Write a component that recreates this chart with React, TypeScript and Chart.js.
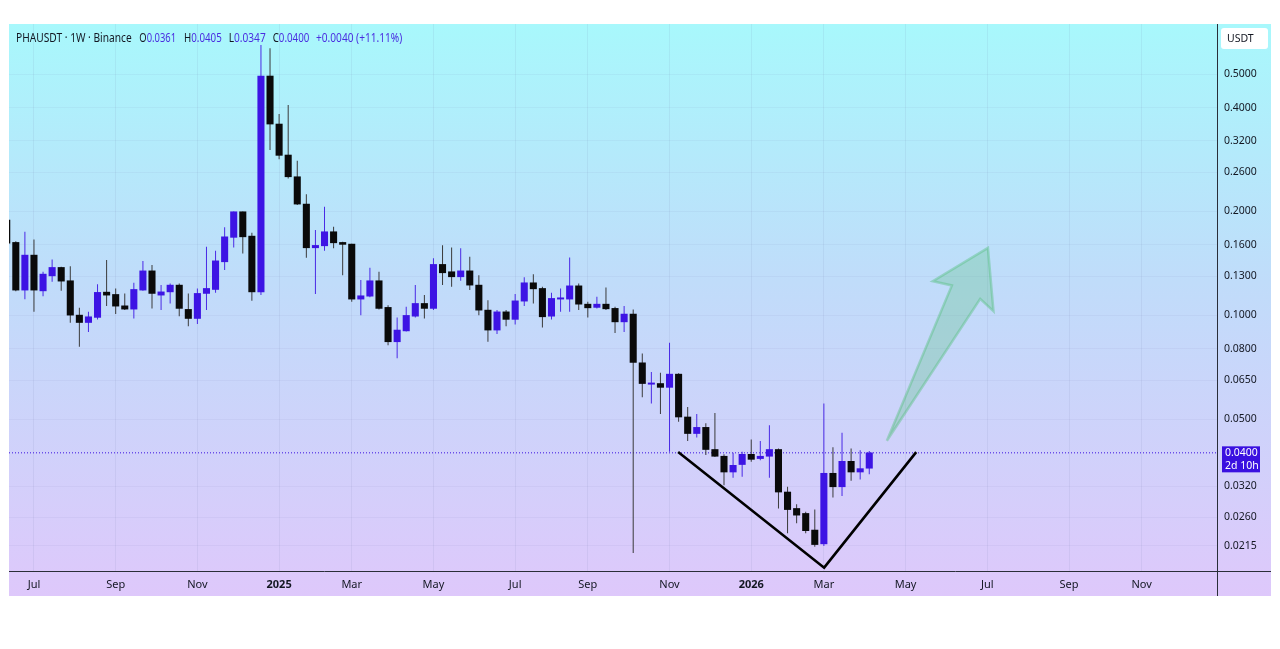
import React, { useEffect, useRef } from "react";
import { Chart, registerables } from "chart.js";

Chart.register(...registerables);

// Weekly candles. Index 0 = week of 2024-07-01; first candle = week of 2024-06-10 (index -3)
const FIRST_WEEK_INDEX = -3;

const opens = [
  0.1889, 0.1627, 0.1184, 0.1495, 0.1178, 0.1302, 0.1377, 0.1260, 0.1002, 0.0954,
  0.0987, 0.1168, 0.1150, 0.1066, 0.1043, 0.1184, 0.1346, 0.1145, 0.1170, 0.1224,
  0.1041, 0.0980, 0.1158, 0.1189, 0.1430, 0.1683, 0.1996, 0.1697, 0.1170, 0.4935,
  0.3583, 0.2914, 0.2521, 0.2101, 0.1570, 0.1591, 0.1747, 0.1627, 0.1609, 0.1115,
  0.1137, 0.1260, 0.1055, 0.0839, 0.0902, 0.0995, 0.1083, 0.1048, 0.1405, 0.1338,
  0.1294, 0.1346, 0.1224, 0.1036, 0.0907, 0.1024, 0.0974, 0.1100, 0.1243, 0.1197,
  0.0995, 0.1115, 0.1115, 0.1218, 0.1078, 0.1055, 0.1078, 0.1048, 0.0958, 0.1009,
  0.0729, 0.0632, 0.0635, 0.0619, 0.0676, 0.0508, 0.0455, 0.0474, 0.0409, 0.0391,
  0.0352, 0.0370, 0.0396, 0.0385, 0.0391, 0.0409, 0.0308, 0.0276, 0.0267, 0.0239,
  0.0218, 0.0349, 0.0319, 0.0378, 0.0352, 0.0361,
];
const highs = [
  0.1950, 0.1640, 0.1747, 0.1660, 0.1338, 0.1453, 0.1383, 0.1389, 0.1052, 0.1024,
  0.1232, 0.1446, 0.1197, 0.1158, 0.1243, 0.1437, 0.1399, 0.1224, 0.1238, 0.1238,
  0.1158, 0.1197, 0.1580, 0.1539, 0.1799, 0.2000, 0.2000, 0.1735, 0.6069, 0.5937,
  0.3830, 0.4067, 0.2805, 0.2242, 0.1767, 0.2064, 0.1806, 0.1634, 0.1612, 0.1266,
  0.1374, 0.1338, 0.1071, 0.0987, 0.1059, 0.1224, 0.1145, 0.1463, 0.1598, 0.1574,
  0.1564, 0.1478, 0.1308, 0.1107, 0.1036, 0.1036, 0.1153, 0.1289, 0.1315, 0.1210,
  0.1163, 0.1197, 0.1472, 0.1238, 0.1095, 0.1132, 0.1205, 0.1059, 0.1064, 0.1041,
  0.0776, 0.0686, 0.0682, 0.0833, 0.0680, 0.0543, 0.0518, 0.0487, 0.0522, 0.0396,
  0.0400, 0.0403, 0.0437, 0.0433, 0.0481, 0.0412, 0.0319, 0.0284, 0.0270, 0.0274,
  0.0556, 0.0415, 0.0457, 0.0412, 0.0407, 0.0405,
];
const lows = [
  0.1580, 0.1175, 0.1113, 0.1024, 0.1137, 0.1251, 0.1178, 0.0952, 0.0811, 0.0896,
  0.0974, 0.1064, 0.1009, 0.1036, 0.0980, 0.1178, 0.1048, 0.1036, 0.1083, 0.0995,
  0.0931, 0.0944, 0.1036, 0.1163, 0.1353, 0.1574, 0.1512, 0.1102, 0.1145, 0.3012,
  0.2831, 0.2494, 0.2087, 0.1469, 0.1153, 0.1539, 0.1564, 0.1308, 0.1095, 0.1002,
  0.1128, 0.1041, 0.0820, 0.0751, 0.0899, 0.0987, 0.0980, 0.1036, 0.1224, 0.1210,
  0.1260, 0.1184, 0.1002, 0.0839, 0.0883, 0.0931, 0.0942, 0.1064, 0.1083, 0.0923,
  0.0974, 0.1024, 0.1024, 0.1036, 0.0987, 0.1048, 0.1036, 0.0890, 0.0896, 0.0205,
  0.0579, 0.0556, 0.0518, 0.0403, 0.0492, 0.0433, 0.0443, 0.0394, 0.0389, 0.0322,
  0.0339, 0.0341, 0.0377, 0.0381, 0.0339, 0.0276, 0.0234, 0.0250, 0.0234, 0.0214,
  0.0215, 0.0297, 0.0300, 0.0332, 0.0335, 0.0347,
];
const closes = [
  0.1620, 0.1184, 0.1495, 0.1184, 0.1317, 0.1377, 0.1257, 0.1002, 0.0954, 0.0991,
  0.1166, 0.1145, 0.1064, 0.1043, 0.1189, 0.1346, 0.1158, 0.1170, 0.1224, 0.1048,
  0.0980, 0.1158, 0.1197, 0.1439, 0.1689, 0.1996, 0.1689, 0.1170, 0.4935, 0.3583,
  0.2908, 0.2521, 0.2101, 0.1570, 0.1595, 0.1747, 0.1623, 0.1606, 0.1115, 0.1140,
  0.1260, 0.1048, 0.0839, 0.0907, 0.1000, 0.1083, 0.1048, 0.1405, 0.1329, 0.1294,
  0.1346, 0.1224, 0.1036, 0.0907, 0.1024, 0.0974, 0.1102, 0.1243, 0.1194, 0.0991,
  0.1120, 0.1120, 0.1218, 0.1078, 0.1052, 0.1078, 0.1045, 0.0958, 0.1009, 0.0731,
  0.0635, 0.0635, 0.0619, 0.0676, 0.0508, 0.0455, 0.0474, 0.0409, 0.0391, 0.0352,
  0.0368, 0.0396, 0.0383, 0.0391, 0.0409, 0.0308, 0.0274, 0.0264, 0.0238, 0.0217,
  0.0349, 0.0319, 0.0378, 0.0352, 0.0360, 0.0400,
];

// Time axis: week index of the first weekly bar of each labelled month
const monthTickWeeks = [0, 9, 18, 27, 35, 44, 53, 61, 70, 79, 87, 96, 105, 114, 122];
const monthTickLabels = ["Jul", "Sep", "Nov", "2025", "Mar", "May", "Jul", "Sep", "Nov", "2026", "Mar", "May", "Jul", "Sep", "Nov"];

// Price axis ticks (0.0400 is covered by the last-price label)
const priceTicks = [0.0215, 0.026, 0.032, 0.05, 0.065, 0.08, 0.1, 0.13, 0.16, 0.2, 0.26, 0.32, 0.4, 0.5];

// Drawn V pattern (week index, price)
const vPatternWeeks = [70.95, 87.03, 97.17];
const vPatternPrices = [0.0402, 0.0186, 0.0402];

// Green arrow drawing (week index, price)
const arrowWeeks = [93.94, 101.1, 99.0, 105.07, 105.68, 104.22];
const arrowPrices = [0.04335, 0.1221, 0.1256, 0.1569, 0.1029, 0.1117];

const X_MIN = -2.75;
const X_MAX = 130.3;
const Y_MIN = 0.01807;
const Y_MAX = 0.6982;

const FONT = "'Noto Sans', 'DejaVu Sans', sans-serif";
const PURPLE = "#3d14e4";
const PURPLE_WICK = "#4a2ae6";
const BLACK = "#0a0a0a";
const BLACK_WICK = "#3a3a3a";
const TEXT = "#131722";
const VALUE_COLOR = "#4a2de0";

export default function App() {
  const ref = useRef<HTMLCanvasElement | null>(null);

  useEffect(() => {
    if (!ref.current) return;
    const weekIdx = opens.map((_, i) => i + FIRST_WEEK_INDEX);
    const isUp = (i: number) => closes[i] >= opens[i];
    const last = closes.length - 1;

    const bgPlugin = {
      id: "tvBackground",
      beforeDraw(chart: any) {
        const { ctx, chartArea } = chart;
        const left = chartArea.left;
        const top = chartArea.top;
        const right = chart.width - 9;
        const bottom = chartArea.bottom + 24;
        const g = ctx.createLinearGradient(0, top, 0, bottom);
        g.addColorStop(0, "#a8f8fc");
        g.addColorStop(0.45, "#c0dcfa");
        g.addColorStop(1, "#dec8fb");
        ctx.save();
        ctx.fillStyle = g;
        ctx.fillRect(left, top, right - left, bottom - top);
        ctx.restore();
      },
    };

    // draws a run of [text, color] pieces squeezed into a target width
    const drawRun = (ctx: any, pieces: [string, string][], x: number, y: number, width: number) => {
      const full = pieces.map((p) => p[0]).join("");
      const w = ctx.measureText(full).width;
      const sx = width / w;
      ctx.save();
      ctx.translate(x, y);
      ctx.scale(sx, 1);
      let cx = 0;
      pieces.forEach(([t, col]) => {
        ctx.fillStyle = col;
        ctx.fillText(t, cx, 0);
        cx += ctx.measureText(t).width;
      });
      ctx.restore();
    };

    const overlayPlugin = {
      id: "tvOverlay",
      afterDatasetsDraw(chart: any) {
        const { ctx, chartArea, scales } = chart;
        ctx.save();
        ctx.beginPath();
        ctx.rect(chartArea.left, chartArea.top, chartArea.right - chartArea.left, chartArea.bottom - chartArea.top);
        ctx.clip();
        ctx.beginPath();
        arrowWeeks.forEach((w, i) => {
          const px = scales.x.getPixelForValue(w);
          const py = scales.y.getPixelForValue(arrowPrices[i]);
          if (i === 0) ctx.moveTo(px, py);
          else ctx.lineTo(px, py);
        });
        ctx.closePath();
        ctx.fillStyle = "rgba(80, 190, 120, 0.28)";
        ctx.fill();
        ctx.lineWidth = 2.5;
        ctx.lineJoin = "miter";
        ctx.strokeStyle = "rgba(80, 190, 120, 0.40)";
        ctx.stroke();
        ctx.restore();
      },
      afterDraw(chart: any) {
        const { ctx, chartArea, scales } = chart;
        const right = chart.width - 9;
        const bottom = chartArea.bottom + 24;
        ctx.save();
        // axis separators
        ctx.strokeStyle = "#2a2e39";
        ctx.lineWidth = 1;
        ctx.beginPath();
        ctx.moveTo(Math.round(chartArea.right) + 0.5, chartArea.top);
        ctx.lineTo(Math.round(chartArea.right) + 0.5, bottom);
        ctx.moveTo(chartArea.left, Math.round(chartArea.bottom) - 0.5);
        ctx.lineTo(right, Math.round(chartArea.bottom) - 0.5);
        ctx.stroke();

        // USDT box
        const bx = chartArea.right + 4;
        const by = chartArea.top + 4;
        const bw = right - bx - 3;
        const bh = 21;
        ctx.fillStyle = "#ffffff";
        ctx.beginPath();
        ctx.roundRect(bx, by, bw, bh, 3);
        ctx.fill();
        ctx.fillStyle = TEXT;
        ctx.font = `10.5px ${FONT}`;
        ctx.textBaseline = "middle";
        ctx.textAlign = "left";
        ctx.fillText("USDT", bx + 6, by + bh / 2 + 0.5);

        // last price label
        const lastY = scales.y.getPixelForValue(closes[last]);
        const lx = chartArea.right + 5;
        const lw = 38;
        ctx.fillStyle = "#3a10e0";
        ctx.fillRect(lx, lastY - 6.5, lw, 26);
        ctx.fillStyle = "#ffffff";
        ctx.font = `10.5px ${FONT}`;
        ctx.fillText(closes[last].toFixed(4), lx + 3, lastY + 0.5);
        ctx.fillText("2d 10h", lx + 3, lastY + 13);

        // title (legend line)
        const ty = chartArea.top + 14;
        ctx.font = `12.5px ${FONT}`;
        drawRun(ctx, [["PHAUSDT · 1W · Binance", TEXT]], 16, ty, 115.7);
        const o = opens[last], h = highs[last], l = lows[last], c = closes[last];
        const prev = closes[last - 1];
        const chg = c - prev;
        const parts: [string, string, number, number][] = [
          ["O", o.toFixed(4), 139.3, 36.7],
          ["H", h.toFixed(4), 184, 37.7],
          ["L", l.toFixed(4), 228.7, 37],
          ["C", c.toFixed(4), 272.7, 36.6],
        ];
        parts.forEach(([k, v, x, w]) => {
          drawRun(ctx, [[k, TEXT], [v, VALUE_COLOR]], x, ty, w);
        });
        drawRun(
          ctx,
          [[`+${chg.toFixed(4)} (+${((chg / prev) * 100).toFixed(2)}%)`, VALUE_COLOR]],
          316,
          ty,
          86.3
        );
        ctx.restore();
      },
    };

    const chart = new Chart(ref.current, {
      type: "bar",
      data: {
        datasets: [
          {
            type: "line",
            label: "V pattern",
            data: vPatternWeeks.map((x, i) => ({ x, y: vPatternPrices[i] })),
            borderColor: "#000000",
            borderWidth: 2.6,
            pointRadius: 0,
            borderJoinStyle: "miter",
            order: 0,
          } as any,
          {
            type: "bar",
            label: "body",
            data: weekIdx.map((x, i) => ({ x, y: [opens[i], closes[i]] })),
            backgroundColor: (ctx: any) => (isUp(ctx.dataIndex) ? PURPLE : BLACK),
            borderWidth: 0,
            barThickness: 6.4,
            minBarLength: 1.3,
            grouped: false,
            order: 1,
          } as any,
          {
            type: "bar",
            label: "wick",
            data: weekIdx.map((x, i) => ({ x, y: [lows[i], highs[i]] })),
            backgroundColor: (ctx: any) => (isUp(ctx.dataIndex) ? PURPLE_WICK : BLACK_WICK),
            borderWidth: 0,
            barThickness: 1,
            inflateAmount: 0,
            grouped: false,
            order: 2,
          } as any,
          {
            type: "line",
            label: "last price",
            data: [
              { x: X_MIN, y: closes[last] },
              { x: X_MAX, y: closes[last] },
            ],
            borderColor: "#3a10e0",
            borderWidth: 1,
            borderDash: [1, 2],
            pointRadius: 0,
            order: 3,
          } as any,
        ],
      },
      options: {
        animation: false,
        responsive: true,
        maintainAspectRatio: false,
        events: [],
        layout: { padding: { left: 9, top: 24, right: 9, bottom: 53 } },
        plugins: {
          legend: { display: false },
          tooltip: { enabled: false },
          title: { display: false },
        },
        scales: {
          x: {
            type: "linear",
            offset: false,
            min: X_MIN,
            max: X_MAX,
            afterBuildTicks: (s: any) => {
              s.ticks = monthTickWeeks.map((v) => ({ value: v }));
            },
            afterFit: (s: any) => {
              s.height = 24;
            },
            ticks: {
              autoSkip: false,
              maxRotation: 0,
              padding: 6,
              color: TEXT,
              font: (ctx: any) => ({
                family: FONT,
                size: 11,
                weight: /^\d{4}$/.test(monthTickLabels[ctx.index] || "") ? "bold" : "normal",
              }),
              callback: (_v: any, i: number) => monthTickLabels[i],
            },
            grid: { color: "rgba(110, 120, 170, 0.10)", drawTicks: false, offset: false },
            border: { display: false },
          },
          y: {
            type: "logarithmic",
            position: "right",
            min: Y_MIN,
            max: Y_MAX,
            afterBuildTicks: (s: any) => {
              s.ticks = priceTicks.map((v) => ({ value: v }));
            },
            afterFit: (s: any) => {
              s.width = 54;
            },
            ticks: {
              autoSkip: false,
              padding: 7,
              color: TEXT,
              font: { family: FONT, size: 10.5 },
              callback: (v: any) => Number(v).toFixed(4),
            },
            grid: { color: "rgba(110, 120, 170, 0.07)", drawTicks: false },
            border: { display: false },
          },
        },
      } as any,
      plugins: [bgPlugin, overlayPlugin],
    });
    return () => chart.destroy();
  }, []);

  return (
    <div style={{ position: "fixed", left: 0, top: 0, width: 1280, height: 649, background: "#ffffff" }}>
      <canvas ref={ref} />
    </div>
  );
}
